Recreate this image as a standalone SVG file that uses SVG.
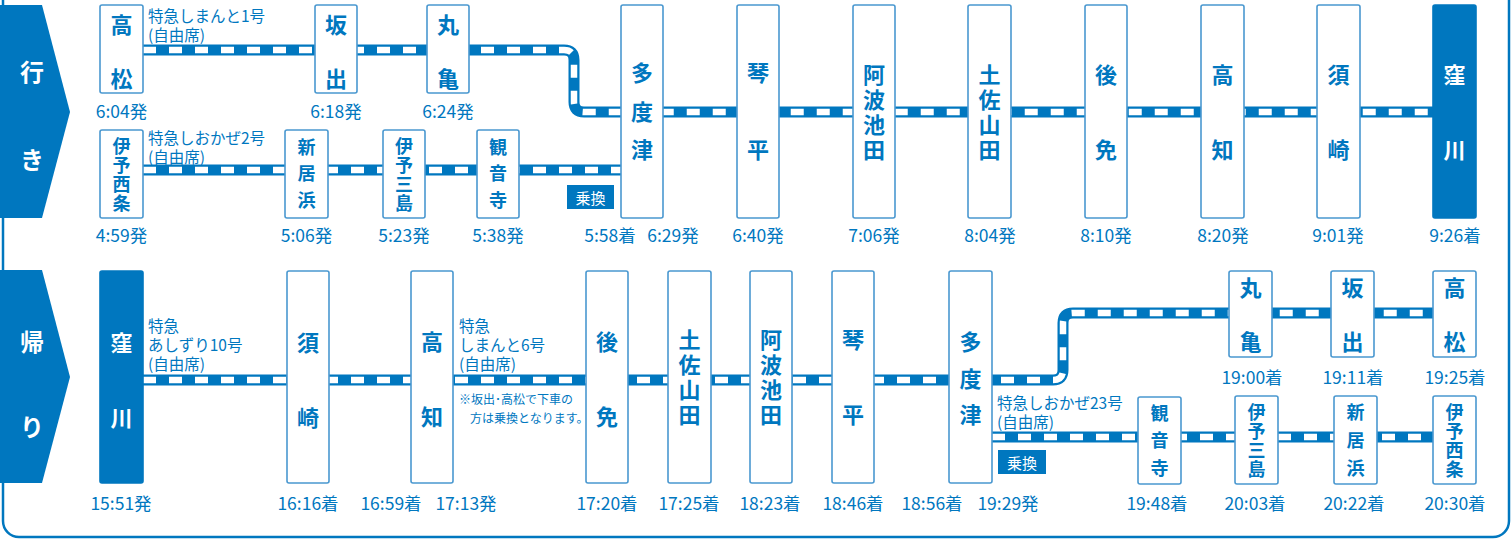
<svg xmlns="http://www.w3.org/2000/svg" width="1511" height="540" viewBox="0 0 1511 540">
<style>
text{font-family:"Noto Sans CJK JP","Noto Sans",sans-serif;fill:#0077bf}
.box{fill:#fff;stroke:#4a98d0;stroke-width:1.6}
.boxf{fill:#0077bf;stroke:#0077bf;stroke-width:1.6}
.st{font-size:22px;font-weight:bold;text-anchor:middle;writing-mode:vertical-rl}
.sm{font-size:18px;font-weight:bold;text-anchor:middle;writing-mode:vertical-rl}
.w{fill:#fff}
.tm{font-size:17.5px;text-anchor:middle;dominant-baseline:central}
.lb{font-size:15.5px;dominant-baseline:central}
.nt{font-size:12px;dominant-baseline:central}
.trk{fill:none;stroke:#0077bf;stroke-width:11}
.trkw{fill:none;stroke:#fff;stroke-width:6.5;stroke-dasharray:13 13}
.tab{fill:#0077bf}
.tabt{font-size:24px;font-weight:bold;fill:#fff;text-anchor:middle;dominant-baseline:central}
.nr{fill:#0077bf}
.nrt{font-size:15px;fill:#fff;text-anchor:middle;dominant-baseline:central}
</style>
<rect x="3" y="-30" width="1506" height="567" rx="16" fill="none" stroke="#0077bf" stroke-width="2.5"/>
<g id="tab-iki"><polygon class="tab" points="0,5 42,5 70,112 42,218 0,218"/><text class="tabt" x="32" y="70">行</text><text class="tabt" x="32" y="158">き</text></g>
<g id="tab-kaeri"><polygon class="tab" points="0,270 42,270 70,377 42,483 0,483"/><text class="tabt" x="32" y="340">帰</text><text class="tabt" x="32" y="425">り</text></g>
<g id="connectors">
<path class="trk" d="M143,50 H564 Q574,50 574,60 V102 Q574,112 584,112 H1433"/>
<path class="trkw" d="M143,50 H564 Q574,50 574,60 V102 Q574,112 584,112 H1433"/>
<path class="trk" d="M143,170 H621"/><path class="trkw" d="M143,170 H621"/>
<path class="trk" d="M143,380 H1053 Q1063,380 1063,370 V323 Q1063,313 1073,313 H1433"/>
<path class="trkw" d="M143,380 H1053 Q1063,380 1063,370 V323 Q1063,313 1073,313 H1433"/>
<path class="trk" d="M992,437 H1433"/><path class="trkw" d="M992,437 H1433"/>
</g>
<g id="labels">
<text class="lb" x="148" y="15">特急しまんと1号<tspan x="148" y="34">(自由席)</tspan></text>
<text class="lb" x="148" y="137">特急しおかぜ2号<tspan x="148" y="156">(自由席)</tspan></text>
<text class="lb" x="148" y="325">特急<tspan x="148" y="344">あしずり10号</tspan><tspan x="148" y="363">(自由席)</tspan></text>
<text class="lb" x="459" y="325">特急<tspan x="459" y="344">しまんと6号</tspan><tspan x="459" y="363">(自由席)</tspan></text>
<text class="nt" x="459" y="398">※坂出･高松で下車の<tspan x="470" y="417">方は乗換となります。</tspan></text>
<text class="lb" x="997" y="401.5">特急しおかぜ23号<tspan x="997" y="420.5">(自由席)</tspan></text>
<g id="norikae1"><rect class="nr" x="567" y="185" width="47" height="24"/><text class="nrt" x="590.5" y="197">乗換</text></g>
<g id="norikae2"><rect class="nr" x="998" y="450" width="48" height="24"/><text class="nrt" x="1022" y="462">乗換</text></g>
</g>
<g id="o-takamatsu"><rect class="box" x="100" y="5" width="43" height="88" rx="2"/><text class="st" x="121.5" y="68" letter-spacing="32">高松</text><text class="tm" x="121.5" y="110">6:04発</text></g>
<g id="o-sakaide"><rect class="box" x="315" y="5" width="42" height="88" rx="2"/><text class="st" x="336" y="68" letter-spacing="32">坂出</text><text class="tm" x="336" y="110">6:18発</text></g>
<g id="o-marugame"><rect class="box" x="427" y="5" width="42" height="88" rx="2"/><text class="st" x="448" y="68" letter-spacing="32">丸亀</text><text class="tm" x="448" y="110">6:24発</text></g>
<g id="o-iyosaijo"><rect class="box" x="100" y="130" width="43" height="88" rx="2"/><text class="sm" x="121.5" y="175" letter-spacing="1">伊予西条</text><text class="tm" x="121.5" y="234">4:59発</text></g>
<g id="o-niihama"><rect class="box" x="285" y="130" width="43" height="88" rx="2"/><text class="sm" x="306.5" y="177.75" letter-spacing="8.5">新居浜</text><text class="tm" x="306.5" y="234">5:06発</text></g>
<g id="o-iyomishima"><rect class="box" x="383" y="130" width="42" height="88" rx="2"/><text class="sm" x="404" y="175" letter-spacing="1">伊予三島</text><text class="tm" x="404" y="234">5:23発</text></g>
<g id="o-kanonji"><rect class="box" x="477" y="130" width="42" height="88" rx="2"/><text class="sm" x="498" y="177.75" letter-spacing="8.5">観音寺</text><text class="tm" x="498" y="234">5:38発</text></g>
<g id="o-tadotsu"><rect class="box" x="621" y="5" width="42" height="213" rx="2"/><text class="st" x="642" y="119.75" letter-spacing="16.5">多度津</text><text class="tm" x="610" y="234">5:58着</text><text class="tm" x="673" y="234">6:29発</text></g>
<g id="o-kotohira"><rect class="box" x="737" y="5" width="42" height="213" rx="2"/><text class="st" x="758" y="139" letter-spacing="55">琴平</text><text class="tm" x="758" y="234">6:40発</text></g>
<g id="o-awaikeda"><rect class="box" x="853" y="5" width="42" height="213" rx="2"/><text class="st" x="874" y="114" letter-spacing="3">阿波池田</text><text class="tm" x="874" y="234">7:06発</text></g>
<g id="o-tosayamada"><rect class="box" x="968" y="5" width="43" height="213" rx="2"/><text class="st" x="989.5" y="114" letter-spacing="3">土佐山田</text><text class="tm" x="990" y="234">8:04発</text></g>
<g id="o-gomen"><rect class="box" x="1085" y="5" width="42" height="213" rx="2"/><text class="st" x="1106" y="139" letter-spacing="53">後免</text><text class="tm" x="1106" y="234">8:10発</text></g>
<g id="o-kochi"><rect class="box" x="1201" y="5" width="43" height="213" rx="2"/><text class="st" x="1222.5" y="139" letter-spacing="53">高知</text><text class="tm" x="1223" y="234">8:20発</text></g>
<g id="o-susaki"><rect class="box" x="1317" y="5" width="43" height="213" rx="2"/><text class="st" x="1338.5" y="139" letter-spacing="53">須崎</text><text class="tm" x="1338" y="234">9:01発</text></g>
<g id="o-kubokawa"><rect class="boxf" x="1433" y="5" width="43" height="213" rx="2"/><text class="st w" x="1454.5" y="139" letter-spacing="53">窪川</text><text class="tm" x="1455" y="234">9:26着</text></g>
<g id="r-kubokawa"><rect class="boxf" x="100" y="271" width="43" height="212" rx="2"/><text class="st w" x="121.5" y="407" letter-spacing="53">窪川</text><text class="tm" x="121" y="502">15:51発</text></g>
<g id="r-susaki"><rect class="box" x="287" y="271" width="42" height="212" rx="2"/><text class="st" x="308" y="407" letter-spacing="53">須崎</text><text class="tm" x="308" y="502">16:16着</text></g>
<g id="r-kochi"><rect class="box" x="411" y="271" width="42" height="212" rx="2"/><text class="st" x="432" y="406" letter-spacing="53">高知</text><text class="tm" x="391" y="502">16:59着</text><text class="tm" x="466" y="502">17:13発</text></g>
<g id="r-gomen"><rect class="box" x="586" y="271" width="42" height="212" rx="2"/><text class="st" x="607" y="406" letter-spacing="53">後免</text><text class="tm" x="607" y="502">17:20着</text></g>
<g id="r-tosayamada"><rect class="box" x="668" y="271" width="43" height="212" rx="2"/><text class="st" x="689.5" y="379" letter-spacing="3">土佐山田</text><text class="tm" x="689" y="502">17:25着</text></g>
<g id="r-awaikeda"><rect class="box" x="750" y="271" width="42" height="212" rx="2"/><text class="st" x="771" y="379" letter-spacing="3">阿波池田</text><text class="tm" x="770" y="502">18:23着</text></g>
<g id="r-kotohira"><rect class="box" x="832" y="271" width="42" height="212" rx="2"/><text class="st" x="853" y="404" letter-spacing="53">琴平</text><text class="tm" x="853" y="502">18:46着</text></g>
<g id="r-tadotsu"><rect class="box" x="949" y="271" width="43" height="212" rx="2"/><text class="st" x="970.5" y="385.75" letter-spacing="14.5">多度津</text><text class="tm" x="932" y="502">18:56着</text><text class="tm" x="1008" y="502">19:29発</text></g>
<g id="r-marugame"><rect class="box" x="1229" y="271" width="43" height="86" rx="2"/><text class="st" x="1250.5" y="331" letter-spacing="32">丸亀</text><text class="tm" x="1252" y="376">19:00着</text></g>
<g id="r-sakaide"><rect class="box" x="1331" y="271" width="43" height="86" rx="2"/><text class="st" x="1352.5" y="331" letter-spacing="32">坂出</text><text class="tm" x="1353" y="376">19:11着</text></g>
<g id="r-takamatsu"><rect class="box" x="1433" y="271" width="43" height="86" rx="2"/><text class="st" x="1454.5" y="331" letter-spacing="32">高松</text><text class="tm" x="1455" y="376">19:25着</text></g>
<g id="r-kanonji"><rect class="box" x="1138" y="397" width="43" height="87" rx="2"/><text class="sm" x="1159.5" y="445.25" letter-spacing="9.5">観音寺</text><text class="tm" x="1157" y="502">19:48着</text></g>
<g id="r-iyomishima"><rect class="box" x="1235" y="396" width="43" height="88" rx="2"/><text class="sm" x="1256.5" y="441" letter-spacing="1">伊予三島</text><text class="tm" x="1255" y="502">20:03着</text></g>
<g id="r-niihama"><rect class="box" x="1334" y="396" width="43" height="88" rx="2"/><text class="sm" x="1355.5" y="445" letter-spacing="10">新居浜</text><text class="tm" x="1354" y="502">20:22着</text></g>
<g id="r-iyosaijo"><rect class="box" x="1433" y="396" width="43" height="88" rx="2"/><text class="sm" x="1454.5" y="441" letter-spacing="1">伊予西条</text><text class="tm" x="1455" y="502">20:30着</text></g>
</svg>
